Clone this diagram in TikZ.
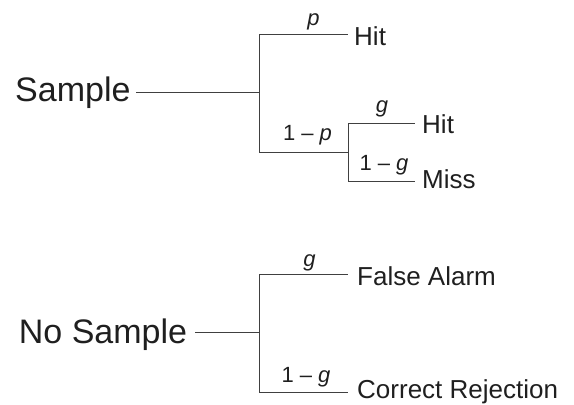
\documentclass[tikz,border=0pt]{standalone}
\usepackage{fontspec}
\setmainfont{Liberation Sans}
\begin{document}
\begin{tikzpicture}[x=1bp,y=-1bp,
  branch/.style={draw=black!75,line width=0.9bp},
  big/.style={inner sep=0pt,anchor=base west,text=black!88,font=\fontsize{34bp}{40bp}\selectfont},
  leaf/.style={inner sep=0pt,anchor=base west,text=black!88,font=\fontsize{26bp}{30bp}\selectfont},
  prob/.style={inner sep=0pt,anchor=base,text=black!88,font=\fontsize{22bp}{26bp}\selectfont}]
\useasboundingbox (0,0) rectangle (574,404);
% ---------- Sample tree ----------
\node[big] (s) at (15,101) {Sample};
\coordinate (s0) at (136,92.7);
\coordinate (j1) at (259,92.7);
\coordinate (a1) at (259,34.3);
\coordinate (a2) at (259,152.3);
\coordinate (b1) at (348,123.3);
\coordinate (b2) at (348,181);
\node[leaf] (hit1) at (354,45) {Hit};
\node[leaf] (hit2) at (422,133) {Hit};
\node[leaf] (miss) at (422,188) {Miss};
\draw[branch] (s0) -- (j1);
\draw[branch] (a1) -- (a2);
\draw[branch] (a1) -- (a1 -| b1);
\draw[branch] (a2) -- (a2 -| b1);
\draw[branch] (b1) -- (b2);
\draw[branch] (b1) -- (b1 -| 415,0);
\draw[branch] (b2) -- (b2 -| 415,0);
\node[prob] (lp) at (313.5,25) {\textit{p}};
\node[prob] (l1p) at (307.5,140) {1 \textendash\ \textit{p}};
\node[prob] (lg) at (382,112) {\textit{g}};
\node[prob] (l1g) at (384,170.7) {1 \textendash\ \textit{g}};
% ---------- No Sample tree ----------
\node[big] (ns) at (18.7,343) {No Sample};
\coordinate (n0) at (195,332.7);
\coordinate (j2) at (259,332.7);
\coordinate (c1) at (259,274.3);
\coordinate (c2) at (259,392.7);
\node[leaf] (fa) at (357,285) {False Alarm};
\node[leaf] (cr) at (357,398) {Correct Rejection};
\draw[branch] (n0) -- (j2);
\draw[branch] (c1) -- (c2);
\draw[branch] (c1) -- (c1 -| 348,0);
\draw[branch] (c2) -- (c2 -| 348,0);
\node[prob] (lg2) at (309.5,266) {\textit{g}};
\node[prob] (l1g2) at (306,382) {1 \textendash\ \textit{g}};
\end{tikzpicture}
\end{document}
